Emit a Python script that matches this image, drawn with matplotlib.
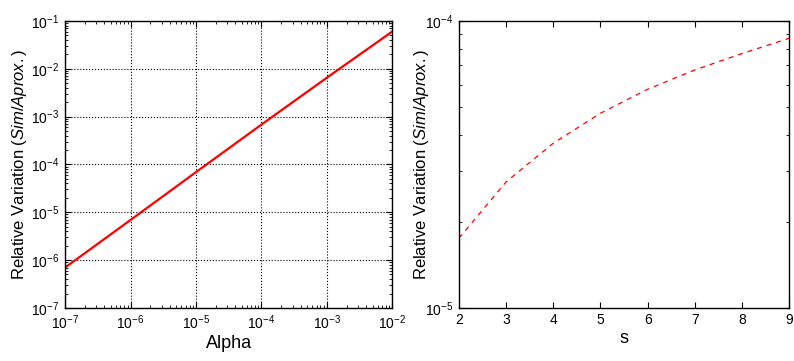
import matplotlib
matplotlib.use("Agg")
import matplotlib.pyplot as plt
from matplotlib.ticker import LogLocator, NullFormatter
import numpy as np

# left panel: relative variation vs alpha
alpha = [1e-7, 1e-6, 1e-5, 1e-4, 1e-3, 1e-2]
varAlpha = [7.0e-7, 6.9e-6, 6.9e-5, 6.8e-4, 6.5e-3, 6.0e-2]

# right panel: relative variation vs s
s = [2, 3, 4, 5, 6, 7, 8, 9]
varS = [1.75e-5, 2.75e-5, 3.75e-5, 4.77e-5, 5.78e-5, 6.75e-5, 7.7e-5, 8.7e-5]

plt.rcParams["font.family"] = ["Liberation Sans", "DejaVu Sans"]
plt.rcParams["mathtext.fontset"] = "custom"
plt.rcParams["mathtext.it"] = "Liberation Sans:italic"
plt.rcParams["mathtext.rm"] = "Liberation Sans"

fig = plt.figure(figsize=(7.94, 3.61), dpi=100)
ax1 = fig.add_axes([0.082, 0.147, 0.412, 0.795])
ax2 = fig.add_axes([0.578, 0.147, 0.416, 0.795])

ylab = "Relative Variation $(Sim/Aprox.)$"

def styleAx(ax):
    ax.tick_params(which="both", direction="in", top=True, right=True, labelsize=10, pad=4)
    ax.tick_params(which="major", length=4, width=0.8)
    ax.tick_params(which="minor", length=2, width=0.6)
    for sp in ax.spines.values():
        sp.set_linewidth(1.0)

ax1.plot(alpha, varAlpha, color="red", lw=1.6)
ax1.set_xscale("log")
ax1.set_yscale("log")
ax1.set_xlim(1e-7, 1e-2)
ax1.set_ylim(1e-7, 1e-1)
ax1.xaxis.set_minor_locator(LogLocator(base=10, subs=np.arange(2, 10)))
ax1.yaxis.set_minor_locator(LogLocator(base=10, subs=np.arange(2, 10)))
ax1.xaxis.set_minor_formatter(NullFormatter())
ax1.yaxis.set_minor_formatter(NullFormatter())
ax1.grid(True, which="major", color="black", linestyle=":", linewidth=0.8)
ax1.set_xlabel("Alpha", fontsize=13, labelpad=2)
ax1.set_ylabel(ylab, fontsize=12)
ax1.yaxis.set_label_coords(-0.11, 0.5)
styleAx(ax1)

ax2.plot(s, varS, color="red", lw=0.9, linestyle=(0, (4, 4)))
ax2.set_yscale("log")
ax2.set_xlim(2, 9)
ax2.set_ylim(1e-5, 1e-4)
ax2.yaxis.set_minor_locator(LogLocator(base=10, subs=np.arange(2, 10)))
ax2.yaxis.set_minor_formatter(NullFormatter())
ax2.set_xlabel("s", fontsize=13, labelpad=2)
ax2.set_ylabel(ylab, fontsize=12)
ax2.yaxis.set_label_coords(-0.085, 0.5)
styleAx(ax2)

fig.savefig("out.png", dpi=100)
